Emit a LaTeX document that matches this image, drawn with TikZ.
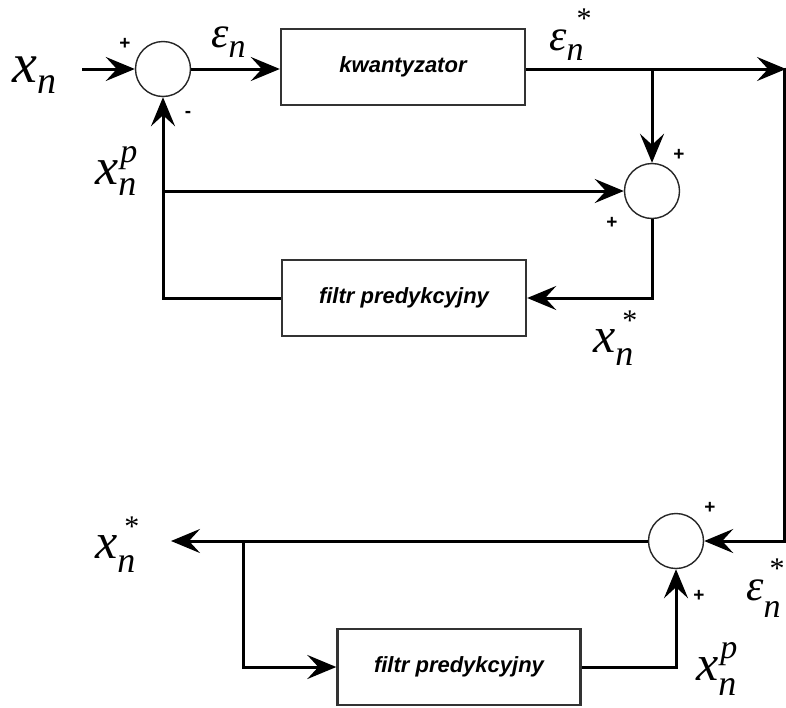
\documentclass[tikz,border=0pt]{standalone}
\usepackage{fontspec}
\setmainfont{Liberation Serif}
\newfontfamily\labfont{Liberation Serif}
\newfontfamily\boxfont{Liberation Sans}
\usetikzlibrary{arrows.meta}
\newcommand{\gx}[1]{{\labfont\fontsize{#1}{#1}\selectfont\itshape x}}
\newcommand{\geps}[1]{{\labfont\fontsize{#1}{#1}\selectfont\itshape ε}}
\newcommand{\gn}[1]{{\labfont\fontsize{#1}{#1}\selectfont\itshape n}}
\newcommand{\gstar}[1]{{\labfont\fontsize{#1}{#1}\selectfont\upshape *}}
\newcommand{\gp}[1]{{\labfont\fontsize{#1}{#1}\selectfont\itshape p}}
\newcommand{\mylab}[6]{#1\rlap{\hspace{#6}\raisebox{#5}{#4}}\raisebox{-#3}{\gn{#2}}}
\begin{document}
\begin{tikzpicture}[x=1pt,y=-1pt,
  line/.style={line width=3pt},
  arr/.style={line width=3pt,-{Stealth[length=29pt,width=24pt,inset=11pt]}},
  sumnode/.style={circle,draw=black!85,line width=1.4pt,minimum size=55pt,inner sep=0pt},
  block/.style={draw=black!80,line width=2.4pt,rectangle,inner sep=0pt,
    font=\boxfont\bfseries\itshape\fontsize{22}{22}\selectfont},
  sign/.style={font=\boxfont\bfseries\fontsize{19}{19}\selectfont,inner sep=0pt},
  lab/.style={inner sep=0pt,anchor=base west}]
\useasboundingbox (0,0) rectangle (786,707);
\fill[white] (0,0) rectangle (786,707);
% nodes
\node[sumnode] (s1) at (163,69) {};
\node[block,minimum width=244pt,minimum height=76pt] (k) at (403,67) {kwantyzator};
\node[sumnode] (s2) at (652,191) {};
\node[block,minimum width=244pt,minimum height=76pt] (f1) at (404,298) {filtr predykcyjny};
\node[sumnode] (s3) at (676,541) {};
\node[block,minimum width=243pt,minimum height=76pt] (f2) at (459,667) {filtr predykcyjny};
% coordinates
\coordinate (in) at (82,69);
\coordinate (tr) at (786,69);
\coordinate (trv) at (784,67.5);
\coordinate (br) at (784,541);
\coordinate (t1) at (652,69);
\coordinate (out) at (171,541);
\coordinate (b1) at (243,541);
% connectors
\draw[arr] (in) -- (s1.west);
\draw[arr] (s1.east) -- (s1.east -| k.west);
\draw[arr] (k.east |- tr) -- (tr);
\draw[arr] (t1) -- (s2.north);
\draw[arr] (trv) -- (br) -- (s3.east);
\draw[arr] (f1.west) -- (f1.west -| s1.south) -- (s1.south);
\draw[arr] (s1.south |- s2.west) -- (s2.west);
\draw[arr] (s2.south) -- (s2.south |- f1.east) -- (f1.east);
\draw[arr] (s3.west) -- (out);
\draw[arr] (b1) -- (b1 |- f2.west) -- (f2.west);
\draw[arr] (f2.east) -- (f2.east -| s3.south) -- (s3.south);
% signs
\node[sign] (p1) at (125,44) {+};
\node[sign] (m1) at (188,114) {-};
\node[sign] (p2) at (679,155) {+};
\node[sign] (p3) at (612,223) {+};
\node[sign] (p4) at (710,508) {+};
\node[sign] (p5) at (699,596) {+};
% labels
\node[lab] (lxn) at (12,82) {\mylab{\gx{56}}{38}{11pt}{}{0pt}{0pt}};
\node[lab] (lxp1) at (95,184) {\mylab{\gx{52}}{36}{11pt}{\gp{34}}{22pt}{2pt}};
\node[lab] (le1) at (211,47) {\mylab{\geps{44}}{34}{10pt}{}{0pt}{0pt}};
\node[lab] (le2) at (549,50) {\mylab{\geps{44}}{34}{10pt}{\gstar{30}}{22pt}{10pt}};
\node[lab] (lxs1) at (593,352) {\mylab{\gx{50}}{36}{13pt}{\gstar{30}}{22pt}{7pt}};
\node[lab] (lxs2) at (95,558) {\mylab{\gx{50}}{36}{14pt}{\gstar{30}}{22pt}{7pt}};
\node[lab] (le3) at (746,600) {\mylab{\geps{44}}{34}{17pt}{\gstar{30}}{22pt}{6pt}};
\node[lab] (lxp2) at (696,680) {\mylab{\gx{50}}{36}{15pt}{\gp{34}}{22pt}{2pt}};
\end{tikzpicture}
\end{document}
